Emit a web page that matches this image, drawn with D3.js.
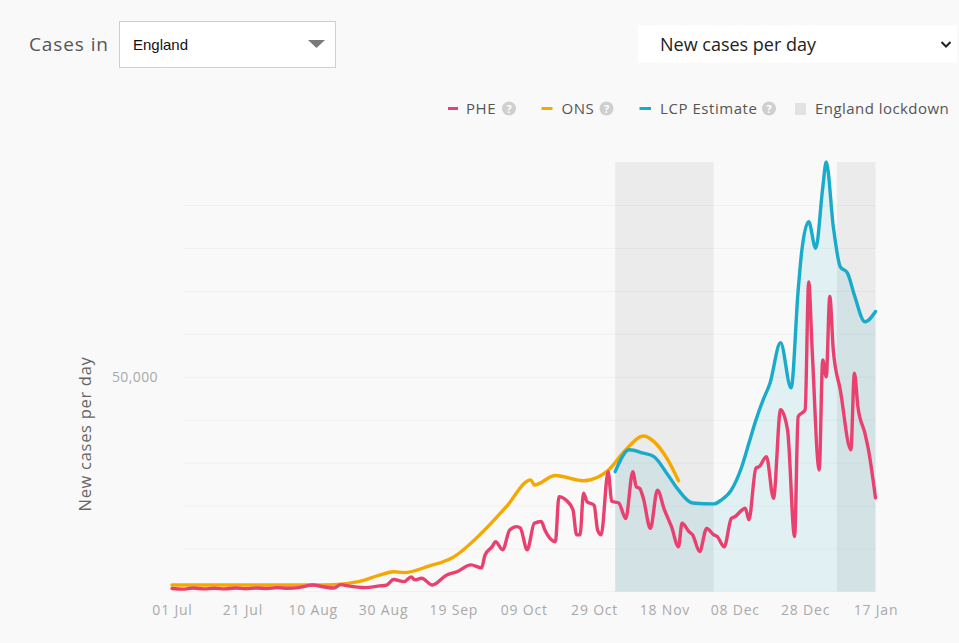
<!DOCTYPE html>
<html><head><meta charset="utf-8">
<script src="https://cdn.jsdelivr.net/npm/d3@7"></script>
<style>
html,body{margin:0;padding:0;background:#f9f9f9;}
svg{display:block;}
text{font-family:"Open Sans",sans-serif;}
</style></head><body>
<svg id="c" width="959" height="643"></svg>
<script>
// ---------- data ----------
const tickDates = ["2020-07-01","2020-07-21","2020-08-10","2020-08-30","2020-09-19","2020-10-09","2020-10-29","2020-11-18","2020-12-08","2020-12-28","2021-01-17"];
const yLabelTicks = [50000];
const gridTicks = [10000,20000,30000,40000,50000,60000,70000,80000,90000];

const pheDates = ["2020-07-01","2020-07-04","2020-07-07","2020-07-10","2020-07-13","2020-07-16","2020-07-19","2020-07-22","2020-07-25","2020-07-28","2020-07-31","2020-08-03","2020-08-06","2020-08-10","2020-08-13","2020-08-16","2020-08-18","2020-08-20","2020-08-25","2020-08-29","2020-08-31","2020-09-02","2020-09-05","2020-09-07","2020-09-08","2020-09-10","2020-09-13","2020-09-17","2020-09-20","2020-09-24","2020-09-27","2020-09-28","2020-09-30","2020-10-01","2020-10-03","2020-10-05","2020-10-07","2020-10-08","2020-10-10","2020-10-12","2020-10-14","2020-10-15","2020-10-18","2020-10-19","2020-10-21","2020-10-23","2020-10-24","2020-10-25","2020-10-26","2020-10-27","2020-10-29","2020-10-30","2020-10-31","2020-11-02","2020-11-03","2020-11-05","2020-11-07","2020-11-09","2020-11-10","2020-11-11","2020-11-12","2020-11-14","2020-11-16","2020-11-18","2020-11-20","2020-11-22","2020-11-23","2020-11-25","2020-11-26","2020-11-28","2020-11-30","2020-12-02","2020-12-03","2020-12-05","2020-12-07","2020-12-08","2020-12-11","2020-12-12","2020-12-14","2020-12-15","2020-12-17","2020-12-19","2020-12-21","2020-12-23","2020-12-25","2020-12-26","2020-12-28","2020-12-29","2020-12-30","2021-01-01","2021-01-02","2021-01-03","2021-01-04","2021-01-05","2021-01-07","2021-01-10","2021-01-11","2021-01-12","2021-01-14","2021-01-15","2021-01-17"];
const pheValues = [700,550,800,600,750,600,800,650,800,700,900,750,900,1500,1100,800,1600,1300,900,1300,1500,2800,2300,3400,2700,3100,1500,3800,4600,6200,5500,8500,10400,11600,9700,14300,15100,14800,9700,15900,16300,14300,11600,22100,21300,19000,13200,13200,22900,20900,20100,14300,13200,27900,21000,20600,17000,27900,24400,24000,21700,14700,23600,19000,15100,10400,15900,13900,13200,9300,14700,13200,12800,10400,17000,17400,19400,16700,28700,29100,31400,21700,42300,37600,12800,40700,42300,72100,56200,28300,53900,50000,68700,56200,46900,33000,50800,43000,36800,33000,21800];

const onsDates = ["2020-07-01","2020-07-21","2020-08-10","2020-08-16","2020-08-23","2020-08-29","2020-09-02","2020-09-05","2020-09-12","2020-09-19","2020-09-27","2020-10-04","2020-10-11","2020-10-12","2020-10-18","2020-10-26","2020-10-30","2020-11-02","2020-11-07","2020-11-12","2020-11-15","2020-11-19","2020-11-22"];
const onsValues = [1500,1500,1500,1600,2300,3800,4600,4400,5900,8000,13600,19700,26000,24800,27000,25800,26600,28200,33000,36200,34900,30600,25800];

const lcpDates = ["2020-11-04","2020-11-08","2020-11-12","2020-11-15","2020-11-19","2020-11-22","2020-11-26","2020-12-02","2020-12-04","2020-12-07","2020-12-10","2020-12-12","2020-12-14","2020-12-16","2020-12-18","2020-12-21","2020-12-24","2020-12-26","2020-12-27","2020-12-29","2020-12-31","2021-01-02","2021-01-03","2021-01-05","2021-01-07","2021-01-09","2021-01-11","2021-01-14","2021-01-17"];
const lcpValues = [27900,33000,32200,31400,27100,23600,20600,20400,21200,23600,29100,34500,39900,44500,48500,57900,47400,70000,79000,86100,79900,94000,100000,85000,75600,74200,69000,62800,65200];

const lockdownStarts = ["2020-11-04","2021-01-06"];
const lockdownEnds = ["2020-12-02","2021-01-17"];

const legendLabels = ["PHE","ONS","LCP Estimate","England lockdown"];

// ---------- setup ----------
const parse = d3.utcParse("%Y-%m-%d");
const svg = d3.select("#c");
const W = 959, H = 643;
svg.append("rect").attr("width",W).attr("height",H).attr("fill","#f9f9f9");

const x = d3.scaleUtc().domain([parse("2020-07-01"), parse("2021-01-17")]).range([172, 875.5]);
const y = d3.scaleLinear().domain([0, 100000]).range([591.5, 162]);

const colors = {phe:"#e8416f", ons:"#f6a800", lcp:"#19abc9"};

// gridlines
const grid = svg.append("g").attr("transform","translate(183,0)")
  .call(d3.axisLeft(y).tickValues(gridTicks).tickSize(-(876-183)).tickFormat(""));
grid.select(".domain").remove();
grid.selectAll(".tick line").attr("stroke","#f0f0f0").attr("stroke-width",1);

// baseline
svg.append("line").attr("x1",172).attr("x2",876).attr("y1",y(0)).attr("y2",y(0)).attr("stroke","#f1f1f1");

const lcp = lcpDates.map((d,i)=>({d:parse(d), v:lcpValues[i]}));
const pheData = pheDates.map((d,i)=>({d:parse(d), v:pheValues[i]}));
const ons = onsDates.map((d,i)=>({d:parse(d), v:onsValues[i]}));
const curve = d3.curveMonotoneX;

// LCP area
svg.append("path").datum(lcp)
  .attr("d", d3.area().curve(curve).x(d=>x(d.d)).y0(y(0)).y1(d=>y(d.v)))
  .attr("fill", colors.lcp).attr("fill-opacity",0.11);

// lockdown bands
lockdownStarts.forEach((s,i)=>{
  const x0 = x(parse(s)), x1 = x(parse(lockdownEnds[i]));
  svg.append("rect").attr("x",x0).attr("width",x1-x0)
    .attr("y",y(100000)).attr("height",y(0)-y(100000))
    .attr("fill","#000").attr("fill-opacity",0.055);
});

// lines
const line = d3.line().curve(curve).x(d=>x(d.d)).y(d=>y(d.v));
[[ons,colors.ons],[pheData,colors.phe],[lcp,colors.lcp]].forEach(([data,c])=>{
  svg.append("path").datum(data).attr("d",line).attr("fill","none").attr("stroke",c)
    .attr("stroke-width",3.4).attr("stroke-linejoin","round").attr("stroke-linecap","round");
});

// x axis
const xa = svg.append("g").attr("transform",`translate(0,${y(0)})`)
  .call(d3.axisBottom(x).tickValues(tickDates.map(parse)).tickFormat(d3.utcFormat("%d %b")).tickSize(0).tickPadding(13.5));
xa.select(".domain").remove();
xa.selectAll("text").attr("fill","#a9a9a9").style("font-size","14px").style("letter-spacing","0.8px").style("font-family","'Open Sans',sans-serif");

// y axis
const ya = svg.append("g").attr("transform","translate(158,0)")
  .call(d3.axisLeft(y).tickValues(yLabelTicks).tickFormat(d3.format(",")).tickSize(0).tickPadding(0));
ya.select(".domain").remove();
ya.selectAll("text").attr("fill","#a9a9a9").style("font-size","14px").style("letter-spacing","0.4px").style("font-family","'Open Sans',sans-serif");

svg.append("text").attr("transform","translate(91,434) rotate(-90)")
  .attr("text-anchor","middle").attr("fill","#666").style("font-size","16.5px").style("letter-spacing","0.7px").text("New cases per day");

// ---------- legend ----------
const lg = svg.append("g");
const legendItems = [
  {c:colors.phe, dash:[448,458], tx:466, q:509},
  {c:colors.ons, dash:[541.5,552.5], tx:561.5, q:606.5},
  {c:colors.lcp, dash:[639.5,651], tx:660, q:769}
];
legendItems.forEach((it,i)=>{
  lg.append("line").attr("x1",it.dash[0]).attr("x2",it.dash[1]).attr("y1",108.5).attr("y2",108.5).attr("stroke",it.c).attr("stroke-width",3);
  lg.append("text").attr("x",it.tx).attr("y",114).attr("fill","#555").style("font-size","15px").style("letter-spacing","0.55px").text(legendLabels[i]);
  lg.append("circle").attr("cx",it.q).attr("cy",108.5).attr("r",7).attr("fill","#cfcfcf");
  lg.append("text").attr("x",it.q).attr("y",112.5).attr("text-anchor","middle").attr("fill","#fff").style("font-size","11px").style("font-weight","700").text("?");
});
lg.append("rect").attr("x",795).attr("y",103).attr("width",11).attr("height",12).attr("fill","#e2e2e2");
lg.append("text").attr("x",815).attr("y",114).attr("fill","#555").style("font-size","15px").style("letter-spacing","0.45px").text(legendLabels[3]);

// ---------- controls ----------
svg.append("text").attr("x",29).attr("y",51).attr("fill","#555").style("font-size","19px").style("letter-spacing","0.9px").text("Cases in");
svg.append("rect").attr("x",119.5).attr("y",21.5).attr("width",216).attr("height",46).attr("fill","#fff").attr("stroke","#cfcfcf");
svg.append("text").attr("x",133).attr("y",49.5).attr("fill","#111").style("font-size","15px").style("font-family","'Liberation Sans',Arial,sans-serif").text("England");
svg.append("path").attr("d","M308,40 L325,40 L316.5,48 Z").attr("fill","#7a7a7a");

svg.append("rect").attr("x",638).attr("y",25).attr("width",319).attr("height",38).attr("fill","#fff");
svg.append("text").attr("x",660).attr("y",51).attr("fill","#222").style("font-size","18px").text("New cases per day");
svg.append("path").attr("d","M941.5,42 L946,46.5 L950.5,42").attr("fill","none").attr("stroke","#222").attr("stroke-width",2);
</script>
</body></html>
